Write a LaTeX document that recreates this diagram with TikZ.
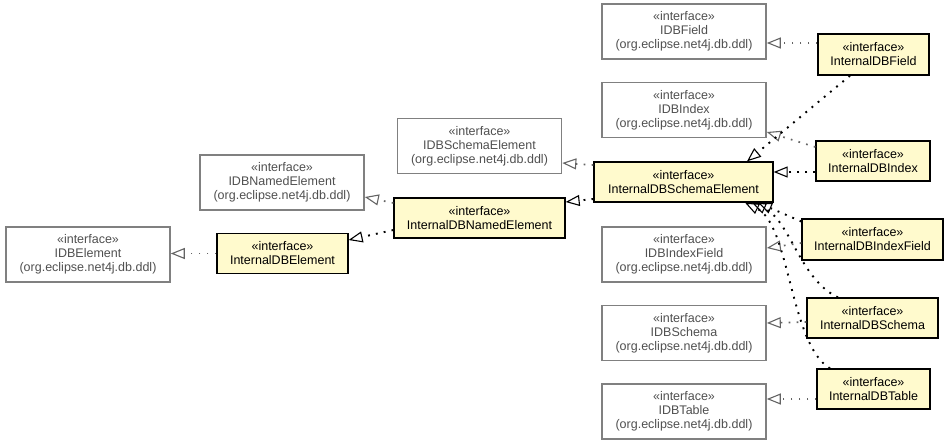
\documentclass[tikz,border=0pt]{standalone}
\usepackage{fontspec}
\setmainfont{Liberation Sans}
\usetikzlibrary{arrows.meta}
\definecolor{boxgray}{RGB}{128,128,128}
\definecolor{linegray}{RGB}{100,100,100}
\definecolor{txtgray}{RGB}{80,80,80}
\definecolor{ifill}{RGB}{255,250,205}
\tikzset{
  ext/.style={draw=boxgray, line width=1.6pt, fill=white, text=txtgray, align=center,
    minimum width=164pt, minimum height=55pt, inner sep=0pt,
    font=\fontsize{12.5}{14}\selectfont},
  intf/.style={draw=black, line width=1.3pt, fill=ifill, text=black, align=center,
    minimum height=40pt, inner sep=0pt, font=\fontsize{12.5}{14}\selectfont},
  realgray/.style={draw=linegray, line width=1.7pt, dash pattern=on 1.7pt off 6.3pt,
    -{Triangle[open, length=14pt, width=11pt, line width=1.1pt]}},
  realblack/.style={draw=black, line width=1.9pt, dash pattern=on 1.9pt off 6.1pt,
    -{Triangle[open, length=14pt, width=11pt, line width=1.1pt]}},
}
\begin{document}
\begin{tikzpicture}[x=1pt, y=-1pt]
\useasboundingbox (0,0) rectangle (949,444);
% external interfaces
\node[ext] (idbe) at (88,254.5) {«interface»\\IDBElement\\(org.eclipse.net4j.db.ddl)};
\node[ext] (idbne) at (282,182.5) {«interface»\\IDBNamedElement\\(org.eclipse.net4j.db.ddl)};
\node[ext] (idbse) at (479.5,146) {«interface»\\IDBSchemaElement\\(org.eclipse.net4j.db.ddl)};
\node[ext] (idbf) at (684,31.5) {«interface»\\IDBField\\(org.eclipse.net4j.db.ddl)};
\node[ext] (idbi) at (684,110) {«interface»\\IDBIndex\\(org.eclipse.net4j.db.ddl)};
\node[ext] (idbif) at (684,254.5) {«interface»\\IDBIndexField\\(org.eclipse.net4j.db.ddl)};
\node[ext] (idbs) at (684,333) {«interface»\\IDBSchema\\(org.eclipse.net4j.db.ddl)};
\node[ext] (idbt) at (684,411.5) {«interface»\\IDBTable\\(org.eclipse.net4j.db.ddl)};
% internal interfaces
\node[intf, minimum width=131pt] (ie) at (282.5,253.5) {«interface»\\InternalDBElement};
\node[intf, minimum width=171pt] (ine) at (479.5,218) {«interface»\\InternalDBNamedElement};
\node[intf, minimum width=179pt] (ise) at (683.5,182) {«interface»\\InternalDBSchemaElement};
\node[intf, minimum width=111pt, minimum height=41pt] (if) at (873.5,54.5) {«interface»\\InternalDBField};
\node[intf, minimum width=114pt] (ii) at (873,161) {«interface»\\InternalDBIndex};
\node[intf, minimum width=141pt, minimum height=41pt] (iif) at (872.5,239.5) {«interface»\\InternalDBIndexField};
\node[intf, minimum width=131pt] (is) at (872.5,318) {«interface»\\InternalDBSchema};
\node[intf, minimum width=113pt] (it) at (873.5,389) {«interface»\\InternalDBTable};
% connectors to external interfaces
\draw[realgray] (ie.west) -- (idbe.east |- ie.west);
\draw[realgray] ([yshift=15pt]ine.west) -- ([yshift=-14.5pt]idbne.east);
\draw[realgray] ([yshift=17pt]ise.west) -- ([yshift=-17pt]idbse.east);
\draw[realgray] ([yshift=11.5pt]if.west) -- ([yshift=-11.5pt]idbf.east);
\draw[realgray] ([yshift=14pt]ii.west) -- ([yshift=-22pt]idbi.east);
\draw[realgray] ([yshift=-3.5pt]iif.west) -- ([yshift=6.5pt]idbif.east);
\draw[realgray] ([yshift=-4pt]is.west) -- ([yshift=10pt]idbs.east);
\draw[realgray] ([yshift=-10pt]it.west) -- ([yshift=12.5pt]idbt.east);
% connectors between internal interfaces
\draw[realblack] ([yshift=-12pt]ine.west) -- ([yshift=13.5pt]ie.east);
\draw[realblack] ([yshift=-17pt]ise.west) -- ([yshift=16pt]ine.east);
\draw[realblack] ([xshift=-23.5pt]if.south) -- ([xshift=63.5pt]ise.north);
\draw[realblack] ([yshift=-11pt]ii.west) -- ([yshift=10pt]ise.east);
\draw[realblack] ([yshift=18pt]iif.west) -- ([xshift=74.5pt]ise.south);
\draw[realblack] ([xshift=-34.5pt]is.north) .. controls (800,280) and (790,220) .. ([xshift=68.5pt]ise.south);
\draw[realblack] ([xshift=-43.5pt]it.north) .. controls (790,345) and (790,225) .. ([xshift=61.5pt]ise.south);
\end{tikzpicture}
\end{document}
